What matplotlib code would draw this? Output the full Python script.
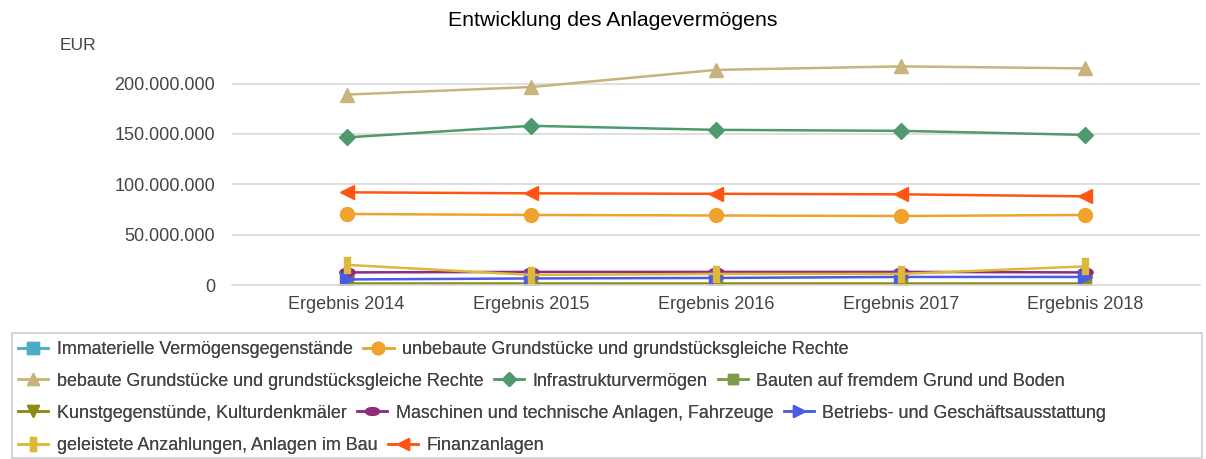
import matplotlib
matplotlib.use("Agg")
import matplotlib.pyplot as plt
import numpy as np
from matplotlib.lines import Line2D
from matplotlib.path import Path
from matplotlib.patches import Rectangle
from matplotlib.ticker import FuncFormatter, FixedLocator

plt.rcParams['font.family'] = ['Liberation Sans', 'DejaVu Sans']

categories = ["Ergebnis 2014", "Ergebnis 2015", "Ergebnis 2016", "Ergebnis 2017", "Ergebnis 2018"]

immaterielle = [0.8e6, 0.7e6, 0.7e6, 0.6e6, 0.6e6]
unbebaute = [70.5e6, 69.5e6, 69.0e6, 68.5e6, 69.5e6]
bebaute = [189.0e6, 196.5e6, 213.5e6, 217.0e6, 215.0e6]
infrastruktur = [146.5e6, 158.0e6, 154.0e6, 153.0e6, 149.0e6]
bauten = [0.3e6, 0.3e6, 0.3e6, 0.3e6, 0.3e6]
kunst = [1.5e6, 1.5e6, 1.5e6, 1.5e6, 1.5e6]
maschinen = [12.5e6, 13.0e6, 13.0e6, 13.0e6, 12.5e6]
betriebs = [5.5e6, 6.5e6, 7.0e6, 8.0e6, 8.0e6]
geleistete = [20.0e6, 10.0e6, 11.0e6, 11.0e6, 18.5e6]
finanz = [92.0e6, 91.0e6, 90.5e6, 90.0e6, 88.0e6]

names = [
    "Immaterielle Vermögensgegenstände",
    "unbebaute Grundstücke und grundstücksgleiche Rechte",
    "bebaute Grundstücke und grundstücksgleiche Rechte",
    "Infrastrukturvermögen",
    "Bauten auf fremdem Grund und Boden",
    "Kunstgegenstünde, Kulturdenkmäler",
    "Maschinen und technische Anlagen, Fahrzeuge",
    "Betriebs- und Geschäftsausstattung",
    "geleistete Anzahlungen, Anlagen im Bau",
    "Finanzanlagen",
]
series = [immaterielle, unbebaute, bebaute, infrastruktur, bauten, kunst,
          maschinen, betriebs, geleistete, finanz]
colors = ["#4BACC6", "#F0A22E", "#C9B37C", "#4E9A6E", "#7E9A4A", "#8C8C12",
          "#8E2D7D", "#4A5BE6", "#DDB83A", "#FF5511"]

ellipse = Path(Path.unit_circle().vertices * np.array([1.0, 0.55]), Path.unit_circle().codes)
tallrect = Path([(-0.4, -1), (0.4, -1), (0.4, 1), (-0.4, 1), (-0.4, -1)],
                [Path.MOVETO, Path.LINETO, Path.LINETO, Path.LINETO, Path.CLOSEPOLY])
markers = ["s", "o", "^", "D", "s", "v", ellipse, ">", tallrect, "<"]
msizes = [9, 10, 10, 8, 8.5, 10, 11, 10, 11, 10]

fig = plt.figure(figsize=(12.06, 4.59), dpi=100)
ax_top_px = 285 - 230 * (285 - 83.5) / 200
ax = fig.add_axes([232/1206, 1 - 285/459, (1200-232)/1206, (285-ax_top_px)/459])

x = np.arange(len(categories))
handles = []
for vals, name, c, m, ms in zip(series, names, colors, markers, msizes):
    ax.plot(x, vals, color=c, lw=1.8, marker=m, markersize=ms,
            markeredgecolor=c, markerfacecolor=c, label=name)
    handles.append(Line2D([0], [0], color=c, lw=1.8, marker=m, markersize=ms*0.9,
                          markeredgecolor=c, markerfacecolor=c))

ax.set_xlim(-0.62, len(categories) - 1 + 0.62)
ax.set_ylim(0, 230e6)
ax.yaxis.set_major_locator(FixedLocator([0, 50e6, 100e6, 150e6, 200e6]))
ax.yaxis.set_major_formatter(FuncFormatter(lambda v, p: f"{int(v):,}".replace(",", ".")))
ax.set_xticks(x)
ax.set_xticklabels(categories)
ax.tick_params(axis='both', length=0, labelsize=13, colors="#444444")
ax.tick_params(axis='y', pad=12)
ax.tick_params(axis='x', pad=8)
ax.grid(axis='y', color="#D9D9D9", lw=1.2)
ax.set_axisbelow(True)
for s in ["top", "right", "left"]:
    ax.spines[s].set_visible(False)
ax.spines["bottom"].set_color("#D9D9D9")
ax.spines["bottom"].set_linewidth(1.2)

fig.text(613/1206, 1 - 21/459, "Entwicklung des Anlagevermögens", ha="center", va="center",
         fontsize=15.3, color="black")
fig.text(60/1206, 1 - 46/459, "EUR", ha="left", va="center", fontsize=12.5, color="#444444")

# legend frame
fig.patches.append(Rectangle((12/1206, 1 - 458/459), (1202-12)/1206, (458-333)/459,
                             transform=fig.transFigure, fill=False, edgecolor="#CCCCCC", lw=1.2))

rows = [[0, 1], [2, 3, 4], [5, 6, 7], [8, 9]]
row_y = [350, 381, 413, 446]
for r, yy in zip(rows, row_y):
    leg = fig.legend([handles[i] for i in r], [names[i] for i in r], ncol=len(r),
                     loc="center left", bbox_to_anchor=(18/1206, 1 - yy/459),
                     frameon=False, fontsize=12.9, handlelength=1.7, handletextpad=0.45,
                     columnspacing=0.6, borderaxespad=0, borderpad=0)
    for t in leg.get_texts():
        t.set_color("#444444")
    fig.add_artist(leg)

fig.savefig("out.png", dpi=100)
